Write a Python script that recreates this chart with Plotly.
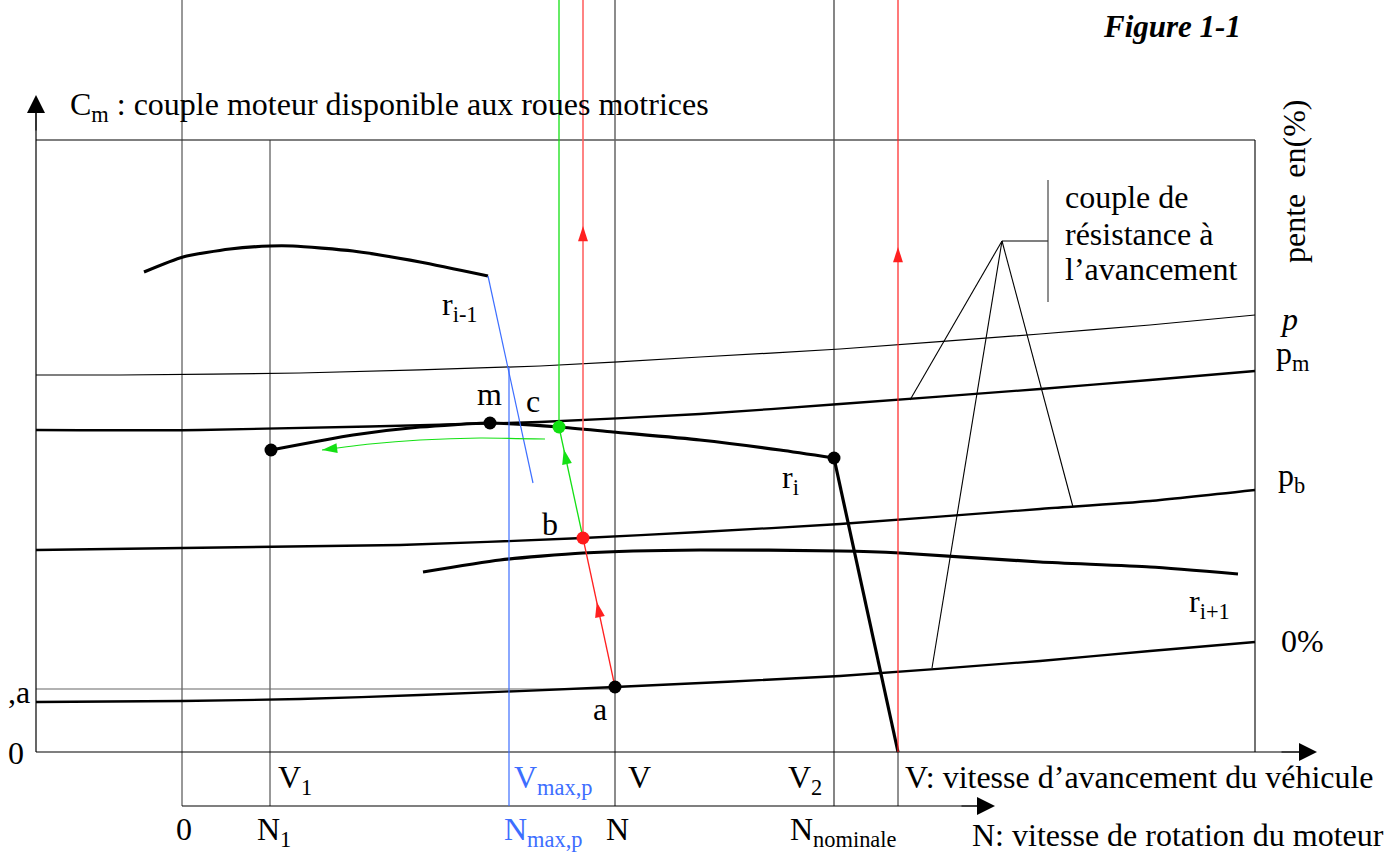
import math
import plotly.graph_objects as go

# ---------------------------------------------------------------------------
# Diagram data. x: horizontal position along the speed axes,
# C: torque measured upward from the V axis (C = 0).
# ---------------------------------------------------------------------------

# Resistance torque curves for the slopes p, pm, pb and 0 %
slope_p_x = [36, 120, 300, 540, 700, 840, 1040, 1150, 1255]
slope_p_c = [377, 377, 379, 386, 395, 403, 418, 427, 437]
slope_pm_x = [36, 200, 540, 700, 840, 1040, 1150, 1255]
slope_pm_c = [322, 322, 330, 338, 348, 363, 372, 381]
slope_pb_x = [36, 400, 583, 700, 840, 1040, 1150, 1255]
slope_pb_c = [202, 207, 214, 220, 228, 243, 251, 262]
slope_0_x = [36, 182, 300, 420, 615, 840, 1040, 1150, 1255]
slope_0_c = [50, 51, 53, 57, 65, 76, 91, 101, 110]

# Engine torque at the driving wheels on gears r(i-1), r(i), r(i+1)
gear_prev_x = [144, 183, 230, 270, 293, 353, 420, 488]
gear_prev_c = [480, 495, 503, 506, 506, 501, 490, 476]
gear_cur_x = [271, 353, 420, 490, 559, 613, 700, 780, 834, 898]
gear_cur_c = [302, 317, 325, 329, 325, 320, 312, 302, 294, 0]
gear_next_x = [423, 500, 583, 700, 840, 900, 1040, 1150, 1238]
gear_next_c = [180, 192, 199, 202, 201, 199, 190, 185, 178]

# Green return path after the gear change (c -> back to r(i) at low speed)
return_x = [545, 480, 420, 370, 322]
return_c = [313, 314, 312, 308, 302]

# Characteristic speeds (positions on the V / N axes)
x_v0, x_n0, x_n1, x_nmax, x_nc, x_nb, x_n, x_nnom, x_v2end, x_right = (
    36, 182, 270, 509, 559, 583, 615, 834, 898, 1255)

# Torque levels of the frame
c_top, c_frame, c_v_axis, c_n_axis, c_ya = 752, 612, 0, -54, 63

# Operating points
point_names = ["a", "b", "c", "m", "r_low", "r_knee"]
point_x = [615, 583, 559, 490, 271, 834]
point_c = [65, 214, 325, 329, 302, 294]
point_col = ["black", "#ff1a1a", "#11e011", "black", "black", "black"]

# Shift line from the end of r(i-1) and its crossing with the p curve
shift_x = [488, 533]
shift_c = [476, 269]
c_nmax_cross = 385

RED = "#ff2020"
RED_LIGHT = "#ff5a5a"
GREEN = "#14e014"
BLUE = "#3d6eff"
FONT = "Liberation Serif"
FS = 32

fig = go.Figure()


def line(xs, cs, color="black", width=1.2):
    fig.add_trace(go.Scatter(x=xs, y=cs, mode="lines", hoverinfo="skip",
                             line=dict(color=color, width=width, shape="spline",
                                       smoothing=0.6)))


def straight(xs, cs, color="black", width=1.2):
    fig.add_trace(go.Scatter(x=xs, y=cs, mode="lines", hoverinfo="skip",
                             line=dict(color=color, width=width)))


# frame and grid lines
straight([x_v0, x_right], [c_frame, c_frame], "#555", 1.3)
straight([x_right, x_right], [c_v_axis, c_frame], "black", 1.1)
straight([x_n0, x_n0], [c_n_axis, c_top], "#333", 1.0)
straight([x_n1, x_n1], [c_n_axis, c_frame], "#333", 1.0)
straight([x_n, x_n], [c_n_axis, c_top], "#666", 1.5)
straight([x_nnom, x_nnom], [c_n_axis, c_top], "#444", 1.3)
straight([x_v2end, x_v2end], [c_n_axis, c_v_axis], "#222", 1.0)
straight([x_v0, x_n], [c_ya, c_ya], "#666", 1.2)

# axes
straight([x_v0, x_v0], [c_v_axis, 650], "black", 1.2)
straight([x_v0, 1310], [c_v_axis, c_v_axis], "black", 1.2)
straight([x_n0, 985], [c_n_axis, c_n_axis], "black", 1.2)

# resistance curves
line(slope_p_x, slope_p_c, "black", 1.2)
line(slope_pm_x, slope_pm_c, "black", 2.3)
line(slope_pb_x, slope_pb_c, "black", 2.3)
line(slope_0_x, slope_0_c, "black", 2.3)

# label leader lines for the resistance curves
apex = (1002, 511)
for ex, ec in [(910, 352), (1073, 245), (932, 84)]:
    straight([apex[0], ex], [apex[1], ec], "black", 1.1)
straight([apex[0], 1048], [apex[1], apex[1]], "black", 1.1)
straight([1048, 1048], [450, 572], "#333", 1.1)

# engine torque curves
line(gear_prev_x, gear_prev_c, "black", 3.2)
line(gear_cur_x[:-1], gear_cur_c[:-1], "black", 3.2)
straight(gear_cur_x[-2:], gear_cur_c[-2:], "black", 3.2)
line(gear_next_x, gear_next_c, "black", 3.2)

# blue: maximum-speed construction
straight(shift_x, shift_c, BLUE, 1.2)
straight([x_nmax, x_nmax], [c_n_axis, c_nmax_cross], BLUE, 1.2)

# red path a -> b and verticals
straight([point_x[0], point_x[1]], [point_c[0], point_c[1]], RED, 1.3)
straight([x_nb, x_nb], [point_c[1], c_top], RED_LIGHT, 1.5)
straight([x_v2end, x_v2end], [c_v_axis, c_top], RED, 1.2)

# green path b -> c, vertical and return curve
straight([point_x[1], point_x[2]], [point_c[1], point_c[2]], GREEN, 1.3)
straight([x_nc, x_nc], [point_c[2], c_top], GREEN, 1.3)
line(return_x, return_c, GREEN, 1.2)

# points
fig.add_trace(go.Scatter(x=point_x, y=point_c, mode="markers", hoverinfo="skip",
                         marker=dict(size=13, color=point_col, line=dict(width=0))))


# arrowheads along the paths
def along(p0, p1, t):
    return (p0[0] + (p1[0] - p0[0]) * t, p0[1] + (p1[1] - p0[1]) * t)


def heading(p0, p1):
    return math.degrees(math.atan2(p1[0] - p0[0], p1[1] - p0[1]))


pa, pb, pc = (point_x[0], point_c[0]), (point_x[1], point_c[1]), (point_x[2], point_c[2])
arrows = [
    ((x_nb, 526), 0.0, RED),
    (along(pa, pb, 0.57), heading(pa, pb), RED),
    (along(pb, pc, 0.80), heading(pb, pc), GREEN),
    ((x_v2end, 505), 0.0, RED),
    ((return_x[-1], return_c[-1]), heading((return_x[-2], return_c[-2]),
                                           (return_x[-1], return_c[-1])), GREEN),
]
fig.add_trace(go.Scatter(
    x=[a[0][0] for a in arrows], y=[a[0][1] for a in arrows], mode="markers",
    hoverinfo="skip",
    marker=dict(symbol="arrow", size=16, angle=[a[1] for a in arrows],
                color=[a[2] for a in arrows], line=dict(width=0))))

# axis arrowheads
for (tx, tc, bx, bc) in [(x_v0, 657, x_v0, 620), (1317, 0, 1280, 0), (995, -54, 960, -54)]:
    fig.add_annotation(x=tx, y=tc, ax=bx, ay=bc, xref="x", yref="y", axref="x",
                       ayref="y", text="", showarrow=True, arrowhead=2, arrowsize=3.6,
                       arrowwidth=1, arrowcolor="black", standoff=0)


def text(x, base, s, anchor="left", color="black", size=FS, angle=0):
    # base is the baseline in C units; place the box top at the font ascent
    fig.add_annotation(x=x, y=base + 0.891 * size, xref="x", yref="y", text=s,
                       showarrow=False, xanchor=anchor, yanchor="top",
                       font=dict(family=FONT, size=size, color=color),
                       borderpad=0, borderwidth=0, textangle=angle)


def b(py):
    return 752 - py


text(70, b(115), "C<sub>m</sub> : couple moteur disponible aux roues motrices")
text(1103, b(37), "<b><i>Figure 1-1</i></b>", size=31)
text(1065, b(208), "couple de")
text(1065, b(245), "résistance à")
text(1065, b(280), "l’avancement")
text(1280, b(330), "<i>p</i>")
text(1276, b(364), "p<sub>m</sub>")
text(1278, b(486), "p<sub>b</sub>")
text(1281, b(652), "0%")
text(1189, b(612), "r<sub>i+1</sub>")
text(782, b(488), "r<sub>i</sub>")
text(442, b(315), "r<sub>i-1</sub>")
text(489, b(405), "m", "center")
text(533, b(412), "c", "center")
text(550, b(535), "b", "center")
text(600, b(720), "a", "center")
text(16, b(764), "0", "center")
text(8, b(703), ",a")
text(278, b(788), "V<sub>1</sub>")
text(514, b(788), "V<sub>max,p</sub>", color=BLUE)
text(628, b(788), "V")
text(788, b(788), "V<sub>2</sub>")
text(905, b(788), "V: vitesse d’avancement du véhicule")
text(184, b(840), "0", "center")
text(257, b(840), "N<sub>1</sub>")
text(504, b(840), "N<sub>max,p</sub>", color=BLUE)
text(606, b(840), "N")
text(790, b(840), "N<sub>nominale</sub>")
text(972, b(846), "N: vitesse de rotation du moteur")

fig.add_annotation(x=1294, y=b(182), xref="x", yref="y", text="pente\u00a0 en(%)",
                   showarrow=False, xanchor="center", yanchor="middle", textangle=-90,
                   font=dict(family=FONT, size=FS, color="black"),
                   borderpad=0, borderwidth=0)

fig.update_layout(
    width=1387, height=852, margin=dict(l=0, r=0, t=0, b=0),
    paper_bgcolor="white", plot_bgcolor="white", showlegend=False,
    xaxis=dict(range=[0, 1387], visible=False, fixedrange=True),
    yaxis=dict(range=[-100, 752], visible=False, fixedrange=True),
)

fig.write_html("out.html")
